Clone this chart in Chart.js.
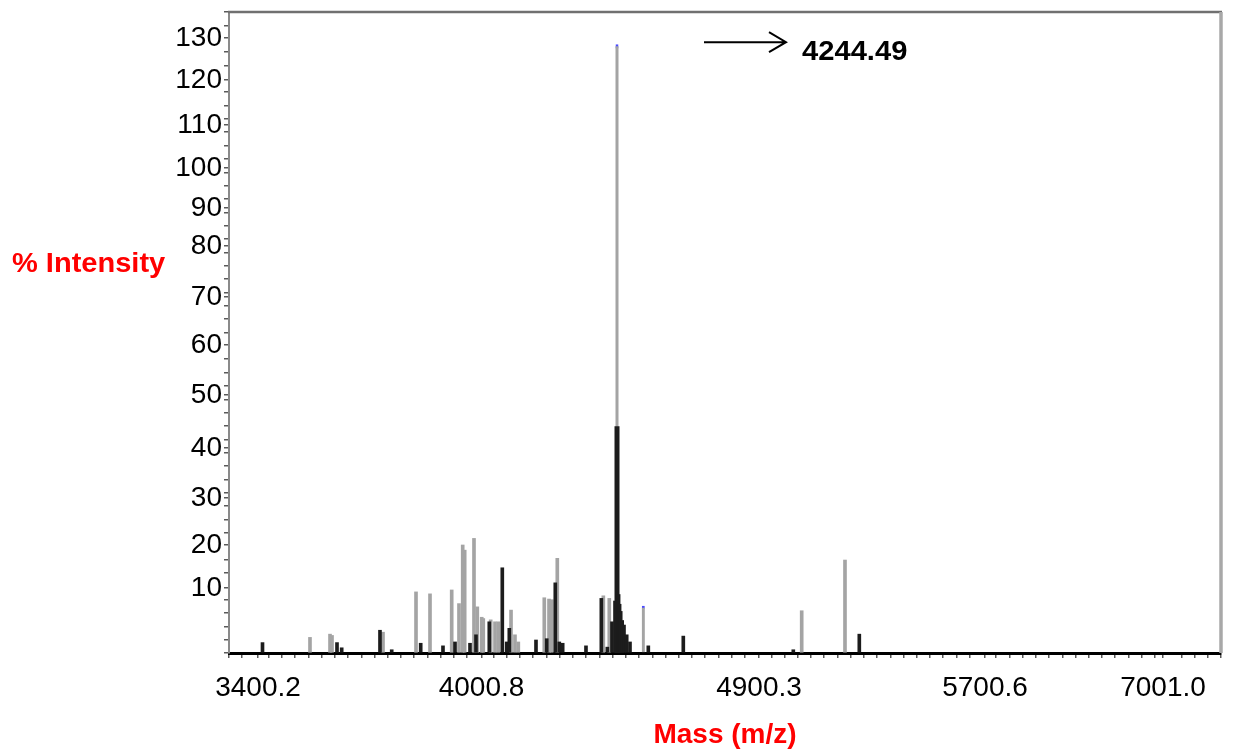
<!DOCTYPE html>
<html>
<head>
<meta charset="utf-8">
<title>Mass spectrum</title>
<script src="https://cdn.jsdelivr.net/npm/chart.js@4.4.1/dist/chart.umd.min.js"></script>
<style>
  html, body { margin: 0; padding: 0; background: #ffffff; }
  canvas { display: block; }
</style>
</head>
<body>
<canvas id="spectrum" width="1240" height="753"></canvas>
<script>
// ---- data -------------------------------------------------------------
// labelled m/z values on the mass axis
const massTicks = [3400.2, 4000.8, 4900.3, 5700.6, 7001.0];
// labelled values on the intensity axis
const intensityTicks = [10, 20, 30, 40, 50, 60, 70, 80, 90, 100, 110, 120, 130];

// grey trace: peak m/z and % intensity
const greyMz = [3539.9, 3593.7, 3599.1, 3736.1, 3824.8, 3862.4, 3920.7, 3940.3, 3950.3, 3955.6,
                3980.6, 3989.5, 4001.2, 4004.0, 4017.3, 4025.1, 4031.0, 4053.9, 4061.0, 4067.0,
                4113.7, 4122.2, 4127.1, 4137.1, 4219.9, 4230.6, 4244.49, 4366.0, 5051.5, 5204.8];
const greyIntensity = [2.4, 2.9, 2.7, 3.2, 9.4, 9.1, 9.7, 7.6, 20.0, 18.8,
                       21.4, 7.1, 5.5, 5.3, 5.1, 4.8, 4.8, 6.6, 2.8, 1.7,
                       8.5, 8.3, 8.2, 16.9, 8.8, 8.4, 128.3, 7.2, 6.5, 16.5];

// black trace: peak m/z and % intensity
const blackMz = [3412.3, 3612.5, 3625.1, 3728.0, 3759.5, 3837.4, 3897.3, 3929.6, 3969.9, 3986.0,
                 4014.8, 4038.2, 4046.1, 4050.8, 4098.8, 4118.1, 4133.5, 4140.7, 4146.8, 4188.7,
                 4216.3, 4227.1, 4235.5, 4240.9, 4244.49, 4251.9, 4256.5, 4261.6, 4268.5, 4276.8,
                 4289.3, 4304.5, 4389.1, 4550.7, 5021.8, 5255.5];
const blackIntensity = [1.6, 1.6, 0.8, 3.5, 0.5, 1.5, 1.1, 1.7, 1.5, 2.8,
                        4.8, 14.7, 1.7, 3.8, 2.0, 2.2, 11.2, 1.7, 1.5, 1.1,
                        8.4, 0.9, 4.8, 8.0, 43.9, 9.0, 7.5, 6.4, 5.0, 4.3,
                        2.8, 1.7, 1.1, 2.6, 0.5, 2.9];

// peaks carrying a picked-peak marker, and the annotated base peak
const markedPeaks = [4244.49, 4366.0];
const basePeakMz = 4244.49;

// ---- calibrated axes --------------------------------------------------
// The printed axes are not uniform: each axis is calibrated by
// [value, fraction of axis length] pairs and interpolated in between.
const massCalibration = [
  [3322.3, 0], [3400.2, 0.02923], [4000.8, 0.25454], [4244.49, 0.39113],
  [4900.3, 0.53427], [5700.6, 0.76210], [7001.0, 0.94153], [7424.7, 1]
];
const intensityCalibration = [
  [0, 0], [10, 0.1014], [20, 0.1685], [30, 0.2418], [40, 0.3198], [50, 0.4025],
  [60, 0.4805], [70, 0.5554], [80, 0.6349], [90, 0.6942], [100, 0.7566],
  [110, 0.8237], [120, 0.8939], [130, 0.9594], [136.2, 1]
];

function interpolate(table, v, from, to) {
  let i = 1;
  while (i < table.length - 1 && v > table[i][from]) i++;
  const a = table[i - 1], b = table[i];
  return a[to] + (v - a[from]) * (b[to] - a[to]) / (b[from] - a[from]);
}

function makeCalibratedScale(id, table) {
  class CalibratedScale extends Chart.LinearScale {
    getPixelForValue(value) {
      if (value === null || value === undefined) return NaN;
      return this.getPixelForDecimal(interpolate(table, value, 0, 1));
    }
    getValueForPixel(pixel) {
      return interpolate(table, this.getDecimalForPixel(pixel), 1, 0);
    }
  }
  CalibratedScale.id = id;
  CalibratedScale.decimalAt = v => interpolate(table, v, 0, 1);
  CalibratedScale.valueAt = d => interpolate(table, d, 1, 0);
  return CalibratedScale;
}

const MassAxis = makeCalibratedScale('massAxis', massCalibration);
const IntensityAxis = makeCalibratedScale('intensityAxis', intensityCalibration);
Chart.register(MassAxis, IntensityAxis);

// labelled ticks plus evenly spaced unlabelled minor marks
function buildTicks(Axis, labelled, steps) {
  const ticks = labelled.map(v => ({ value: v, labelled: true }));
  for (let i = 0; i <= steps; i++) {
    const d = i / steps;
    if (labelled.some(v => Math.abs(Axis.decimalAt(v) - d) < 0.006)) continue;
    ticks.push({ value: Axis.valueAt(d) });
  }
  return ticks.sort((a, b) => a.value - b.value);
}

// the frame edges are fixed, so label overhang must not add padding
function fixedBox(size) {
  return scale => {
    if (scale.isHorizontal()) scale.height = size; else scale.width = size;
    scale.paddingTop = 0;
    scale.paddingBottom = 0;
    scale.paddingLeft = 0;
    scale.paddingRight = 0;
  };
}

// ---- decorations ------------------------------------------------------
const FONT = "'Liberation Sans', Arial, Helvetica, sans-serif";

const decorations = {
  id: 'decorations',
  afterDraw(chart) {
    const { ctx, chartArea: a, scales: { x, y } } = chart;
    ctx.save();

    // frame: top and right edges
    ctx.strokeStyle = '#707070';
    ctx.lineWidth = 2.5;
    ctx.beginPath();
    ctx.moveTo(a.left - 1, a.top);
    ctx.lineTo(a.right + 1, a.top);
    ctx.stroke();
    ctx.strokeStyle = '#a8a8a8';
    ctx.lineWidth = 3.5;
    ctx.beginPath();
    ctx.moveTo(a.right, a.top);
    ctx.lineTo(a.right, a.bottom);
    ctx.stroke();

    // horizontal intensity title
    ctx.save();
    ctx.fillStyle = '#ff0000';
    ctx.font = 'bold 27px ' + FONT;
    ctx.textAlign = 'left';
    ctx.textBaseline = 'middle';
    ctx.translate(12, 265);
    ctx.scale(1.075, 1);
    ctx.fillText('% Intensity', 0, 0);
    ctx.restore();

    // base peak annotation: arrow and m/z value
    const idx = greyMz.indexOf(basePeakMz);
    const px = x.getPixelForValue(basePeakMz);
    const py = y.getPixelForValue(greyIntensity[idx]);
    const ay = py - 3;
    ctx.strokeStyle = '#000';
    ctx.lineWidth = 2;
    ctx.beginPath();
    ctx.moveTo(px + 87, ay);
    ctx.lineTo(px + 169, ay);
    ctx.moveTo(px + 152, ay - 10);
    ctx.lineTo(px + 169, ay);
    ctx.lineTo(px + 152, ay + 10);
    ctx.stroke();

    ctx.fillStyle = '#000';
    ctx.font = 'bold 27px ' + FONT;
    ctx.textBaseline = 'alphabetic';
    ctx.translate(px + 185, py + 15);
    ctx.scale(1.08, 1);
    ctx.fillText(basePeakMz.toFixed(2), 0, 0);
    ctx.restore();
  }
};

// ---- chart ------------------------------------------------------------
const toPoints = (xs, ys) => xs.map((m, i) => ({ x: m, y: ys[i] }));
const markerBorder = ctx =>
  ctx.raw && markedPeaks.includes(ctx.raw.x) ? { top: 2, left: 0, right: 0, bottom: 0 } : 0;
const basePeakInflate = ctx => (ctx.raw && ctx.raw.x === basePeakMz ? 1 : 'auto');

Chart.defaults.font.family = FONT;
Chart.defaults.color = '#000';

new Chart(document.getElementById('spectrum'), {
  type: 'bar',
  data: {
    datasets: [
      {
        label: 'black trace',
        data: toPoints(blackMz, blackIntensity),
        backgroundColor: '#1c1c1c',
        barThickness: 3,
        grouped: false,
        order: 1,
        inflateAmount: basePeakInflate
      },
      {
        label: 'grey trace',
        data: toPoints(greyMz, greyIntensity),
        backgroundColor: '#a4a4a4',
        borderColor: '#4a4aff',
        borderWidth: markerBorder,
        borderSkipped: false,
        barThickness: 3,
        grouped: false,
        order: 2,
        inflateAmount: basePeakInflate
      }
    ]
  },
  options: {
    responsive: false,
    animation: false,
    devicePixelRatio: 1,
    layout: { padding: { left: 0, top: 12, right: 19, bottom: 0 } },
    plugins: { legend: { display: false }, tooltip: { enabled: false } },
    scales: {
      x: {
        type: 'massAxis',
        min: massCalibration[0][0],
        max: massCalibration[massCalibration.length - 1][0],
        bounds: 'data',
        offset: false,
        border: { display: true, color: '#000', width: 3 },
        grid: { offset: false, drawOnChartArea: false, drawTicks: true, tickLength: 5, color: '#5a5a5a', lineWidth: 1.5 },
        ticks: {
          autoSkip: false, maxRotation: 0, minRotation: 0, padding: 13,
          color: '#000', font: { size: 28 },
          callback: (value, i, ticks) => (ticks[i].labelled ? value.toFixed(1) : '')
        },
        title: {
          display: true, text: 'Mass (m/z)', color: '#ff0000',
          font: { size: 28, weight: 'bold' }, padding: { top: 0, bottom: 1 }
        },
        afterBuildTicks: scale => { scale.ticks = buildTicks(MassAxis, massTicks, 75); },
        afterFit: fixedBox(100)
      },
      y: {
        type: 'intensityAxis',
        min: intensityCalibration[0][0],
        max: intensityCalibration[intensityCalibration.length - 1][0],
        bounds: 'data',
        border: { display: true, color: '#8a8a8a', width: 2 },
        grid: { drawOnChartArea: false, drawTicks: true, tickLength: 5, color: '#5a5a5a', lineWidth: 1.5 },
        ticks: {
          autoSkip: false, padding: 2, color: '#000', font: { size: 28 },
          callback: (value, i, ticks) => (ticks[i].labelled ? String(value) : '')
        },
        afterBuildTicks: scale => { scale.ticks = buildTicks(IntensityAxis, intensityTicks, 48); },
        afterFit: fixedBox(229)
      }
    }
  },
  plugins: [decorations]
});
</script>
</body>
</html>
